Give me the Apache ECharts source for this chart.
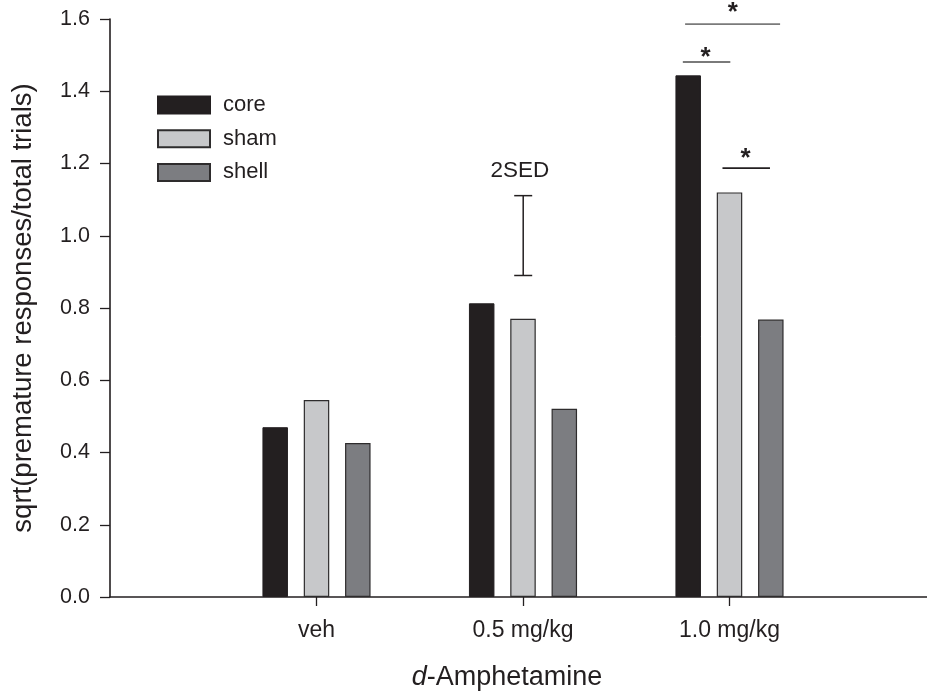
<!DOCTYPE html>
<html>
<head>
<meta charset="utf-8">
<script src="https://cdn.jsdelivr.net/npm/echarts@6/dist/echarts.min.js"></script>
<style>html,body{margin:0;padding:0;background:#fff;}#c{width:927px;height:691px;}</style>
</head>
<body>
<div id="c"></div>
<script>
// ---- data ----
var categories = ['veh', '0.5 mg/kg', '1.0 mg/kg'];
var seriesNames = ['core', 'sham', 'shell'];
var coreValues = [0.470, 0.813, 1.444];
var shamValues = [0.545, 0.770, 1.120];
var shellValues = [0.426, 0.521, 0.768];
var yTicks = [0.0, 0.2, 0.4, 0.6, 0.8, 1.0, 1.2, 1.4, 1.6];
// 2SED bar: [x position (axis units), low, high]
var sedBar = [[2.001, 0.890, 1.111]];
var sedLabel = [[1.985, 1.180, '2SED']];
// significance lines: [x1, x2, y]
var sigLines = [[2.785, 3.245, 1.586], [2.774, 3.004, 1.481], [2.966, 3.196, 1.187]];
// asterisks: [x, y]
var sigStars = [[3.016, 1.630], [2.884, 1.506], [3.078, 1.2255]];

var FONT = '"Liberation Sans", Arial, Helvetica, sans-serif';
var INK = '#231f20';
var chart = echarts.init(document.getElementById('c'), null, {renderer: 'canvas'});

function toPairs(vals) { return vals.map(function (v, i) { return [i + 1, v]; }); }
var axisCats = [''].concat(categories).concat(['']);

var sigColors = ['#7a7a7a', '#7a7a7a', INK];

var option = {
  animation: false,
  backgroundColor: '#ffffff',
  textStyle: {fontFamily: FONT},
  grid: {left: 110, width: 826, top: 19, bottom: 94, containLabel: false, outerBoundsMode: 'none'},
  legend: {
    orient: 'vertical', left: 152, top: 89,
    itemWidth: 52, itemHeight: 17, itemGap: 11.7,
    icon: 'rect',
    data: seriesNames,
    textStyle: {fontFamily: FONT, fontSize: 22, color: INK, padding: [0, 0, 0, 8], lineHeight: 17}
  },
  xAxis: [{
    type: 'category',
    data: axisCats,
    boundaryGap: false,
    axisLine: {lineStyle: {color: INK, width: 1.6}},
    axisTick: {show: true, length: 9, lineStyle: {color: INK, width: 1.3},
      interval: function (i) { return i >= 1 && i <= categories.length; }},
    axisLabel: {interval: 0, margin: 22, fontSize: 23, color: INK, fontFamily: FONT},
    splitLine: {show: false},
    name: '{i|d}-Amphetamine',
    nameLocation: 'middle',
    nameGap: 67,
    nameTextStyle: {fontSize: 27, color: INK, fontFamily: FONT, padding: [0, 32, 0, 0],
      rich: {i: {fontStyle: 'italic', fontSize: 27, color: INK, fontFamily: FONT}}}
  }, {
    type: 'value', min: 0, max: categories.length + 1, show: false
  }],
  yAxis: [{
    type: 'value', min: yTicks[0], max: yTicks[yTicks.length - 1], interval: 0.2,
    axisLine: {show: true, lineStyle: {color: INK, width: 1.6}},
    axisTick: {show: true, length: 10, lineStyle: {color: INK, width: 1.3},},
    axisLabel: {margin: 20, fontSize: 21.5, color: INK, fontFamily: FONT,
      formatter: function (v) { return v.toFixed(1); }},
    splitLine: {show: false},
    name: 'sqrt(premature responses/total trials)',
    nameLocation: 'middle',
    nameGap: 73,
    nameTextStyle: {fontSize: 27.5, color: INK, fontFamily: FONT}
  }],
  series: [
    {name: 'core', type: 'bar', xAxisIndex: 0, data: toPairs(coreValues), barWidth: 25.5, barGap: '62%',
      itemStyle: {color: '#231f20', borderColor: '#231f20', borderWidth: 1}},
    {name: 'sham', type: 'bar', xAxisIndex: 0, data: toPairs(shamValues), barWidth: 25.5, barGap: '62%',
      itemStyle: {color: '#c7c8ca', borderColor: '#2e2c2d', borderWidth: 1.2}},
    {name: 'shell', type: 'bar', xAxisIndex: 0, data: toPairs(shellValues), barWidth: 25.5, barGap: '62%',
      itemStyle: {color: '#7c7d81', borderColor: '#2e2c2d', borderWidth: 1.2}},
    {type: 'custom', xAxisIndex: 1, yAxisIndex: 0, silent: true, data: sedBar,
      renderItem: function (params, api) {
        var lo = api.coord([api.value(0), api.value(1)]);
        var hi = api.coord([api.value(0), api.value(2)]);
        var hw = 9;
        var st = {stroke: INK, lineWidth: 1.5};
        return {type: 'group', children: [
          {type: 'line', shape: {x1: lo[0], y1: lo[1], x2: hi[0], y2: hi[1]}, style: st},
          {type: 'line', shape: {x1: lo[0] - hw, y1: lo[1], x2: lo[0] + hw, y2: lo[1]}, style: st},
          {type: 'line', shape: {x1: hi[0] - hw, y1: hi[1], x2: hi[0] + hw, y2: hi[1]}, style: st}
        ]};
      }},
    {type: 'custom', xAxisIndex: 1, yAxisIndex: 0, silent: true, data: sedLabel,
      renderItem: function (params, api) {
        var p = api.coord([api.value(0), api.value(1)]);
        return {type: 'text', x: p[0], y: p[1], style: {text: sedLabel[params.dataIndex][2],
          fontSize: 22.5, fontFamily: FONT, fill: INK, align: 'center', verticalAlign: 'middle'}};
      }},
    {type: 'custom', xAxisIndex: 1, yAxisIndex: 0, silent: true, data: sigLines,
      renderItem: function (params, api) {
        var a = api.coord([api.value(0), api.value(2)]);
        var b = api.coord([api.value(1), api.value(2)]);
        return {type: 'line', shape: {x1: a[0], y1: a[1], x2: b[0], y2: b[1]},
          style: {stroke: sigColors[params.dataIndex], lineWidth: 1.8}};
      }},
    {type: 'custom', xAxisIndex: 1, yAxisIndex: 0, silent: true, data: sigStars,
      renderItem: function (params, api) {
        var p = api.coord([api.value(0), api.value(1)]);
        return {type: 'text', x: p[0], y: p[1] + 5, style: {text: '*', fontSize: 26, fontWeight: 'bold',
          fontFamily: FONT, fill: INK, align: 'center', verticalAlign: 'middle'}};
      }}
  ]
};
chart.setOption(option);
</script>
</body>
</html>
